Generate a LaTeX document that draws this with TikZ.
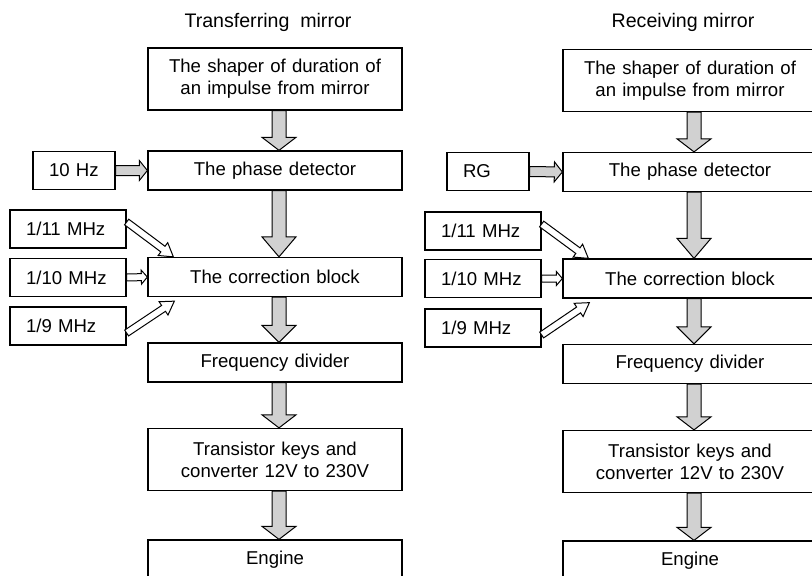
\documentclass[tikz,border=0pt]{standalone}
\usepackage{fontspec}
\setmainfont{Liberation Sans}
\usetikzlibrary{calc, positioning}
\tikzset{
    block/.style={rectangle, draw, line width=1.3pt, minimum width=254pt, text width=240pt, align=center, inner sep=0pt, minimum height=39pt, font=\fontsize{18.6}{22}\selectfont},
    tall/.style={block, minimum height=62pt},
    source/.style={rectangle, draw, line width=1.3pt, text width=84pt, inner xsep=16pt, inner ysep=0pt, minimum height=38pt, align=left, font=\fontsize{18.6}{22}\selectfont},
    title/.style={font=\fontsize{19.6}{22}\selectfont},
    fat shaft/.store in=\fatshaft, fat head/.store in=\fathead, fat len/.store in=\fatlen,
    fat shaft=7pt, fat head=17pt, fat len=13pt,
    fat/.style={draw, line width=1pt, fill=black!18, line join=miter, to path={
        ($(\tikztostart)!\fatshaft!90:(\tikztotarget)$)
        -- ($($(\tikztotarget)!\fatlen!(\tikztostart)$)!\fatshaft!-90:(\tikztostart)$)
        -- ($($(\tikztotarget)!\fatlen!(\tikztostart)$)!\fathead!-90:(\tikztostart)$)
        -- (\tikztotarget)
        -- ($($(\tikztotarget)!\fatlen!(\tikztostart)$)!\fathead!90:(\tikztostart)$)
        -- ($($(\tikztotarget)!\fatlen!(\tikztostart)$)!\fatshaft!90:(\tikztostart)$)
        -- ($(\tikztostart)!\fatshaft!-90:(\tikztotarget)$) -- cycle}},
    feed/.style={fat, fill=white, fat shaft=3.5pt, fat head=8pt, fat len=13pt}
}
\begin{document}
\begin{tikzpicture}[x=1pt, y=-1pt]
        \useasboundingbox (0,0) rectangle (812,576);

        % Transferring mirror
        \node (T_title) [title] at (268, 22) {Transferring\ \ mirror};
        \node (T_shaper) [tall] at (275, 79) {The shaper of duration of\\an impulse from mirror};
        \node (T_phase) [block] at (275, 170.5) {The phase detector};
        \node (T_corr) [block] at (275, 277) {The correction block};
        \node (T_div) [block] at (275, 362.5) {Frequency divider};
        \node (T_keys) [tall] at (275, 459.5) {Transistor keys and\\converter 12V to 230V};
        \node (T_engine) [block] at (275, 559.5) {Engine};
        \node (T_ref) [source, text width=50pt] at (74, 170.5) {10 Hz};
        \node (T_f11) [source] at (68, 229) {1/11 MHz};
        \node (T_f10) [source] at (68, 277.5) {1/10 MHz};
        \node (T_f9) [source] at (68, 326) {1/9 MHz};

        \draw[fat] ([xshift=4pt]T_shaper.south) to ([xshift=4pt]T_phase.north);
        \draw[fat, fat len=20pt] ([xshift=4pt]T_phase.south) to ([xshift=4pt]T_corr.north);
        \draw[fat, fat len=17pt] ([xshift=4pt]T_corr.south) to ([xshift=4pt]T_div.north);
        \draw[fat] ([xshift=4pt]T_div.south) to ([xshift=4pt]T_keys.north);
        \draw[fat] ([xshift=4pt]T_keys.south) to ([xshift=4pt]T_engine.north);
        \draw[fat, fat shaft=5pt, fat head=10pt, fat len=8pt] (T_ref.east) to (T_phase.west);
        \draw[feed, fat head=7pt, fat len=6pt] (T_f10.east) to (T_corr.west);
        \draw[feed] ([yshift=7pt]T_f11.east) to ([xshift=26pt]T_corr.north west);
        \draw[feed] ([yshift=-7pt]T_f9.east) to ([xshift=27pt, yshift=-4pt]T_corr.south west);

        % Receiving mirror
        \node (R_title) [title] at (683, 22) {Receiving mirror};
        \node (R_shaper) [tall] at (690, 80.5) {The shaper of duration of\\an impulse from mirror};
        \node (R_phase) [block] at (690, 172) {The phase detector};
        \node (R_corr) [block] at (690, 278.5) {The correction block};
        \node (R_div) [block] at (690, 364) {Frequency divider};
        \node (R_keys) [tall] at (690, 461.5) {Transistor keys and\\converter 12V to 230V};
        \node (R_engine) [block] at (690, 560.5) {Engine};
        \node (R_ref) [source, text width=50pt] at (488, 171.5) {RG};
        \node (R_f11) [source] at (483, 231) {1/11 MHz};
        \node (R_f10) [source] at (483, 278.5) {1/10 MHz};
        \node (R_f9) [source] at (483, 328) {1/9 MHz};

        \draw[fat] ([xshift=4pt]R_shaper.south) to ([xshift=4pt]R_phase.north);
        \draw[fat, fat len=20pt] ([xshift=4pt]R_phase.south) to ([xshift=4pt]R_corr.north);
        \draw[fat, fat len=17pt] ([xshift=4pt]R_corr.south) to ([xshift=4pt]R_div.north);
        \draw[fat] ([xshift=4pt]R_div.south) to ([xshift=4pt]R_keys.north);
        \draw[fat] ([xshift=4pt]R_keys.south) to ([xshift=4pt]R_engine.north);
        \draw[fat, fat shaft=5pt, fat head=10pt, fat len=8pt] (R_ref.east) to (R_phase.west);
        \draw[feed, fat head=7pt, fat len=6pt] (R_f10.east) to (R_corr.west);
        \draw[feed] ([yshift=7pt]R_f11.east) to ([xshift=26pt]R_corr.north west);
        \draw[feed] ([yshift=-7pt]R_f9.east) to ([xshift=27pt, yshift=-4pt]R_corr.south west);
    \end{tikzpicture}
\end{document}
